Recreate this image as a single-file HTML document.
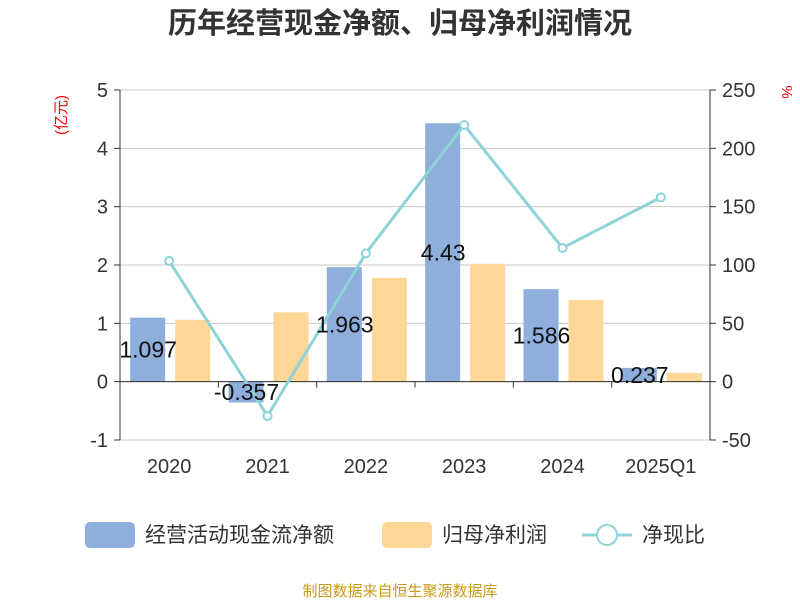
<!DOCTYPE html>
<html><head><meta charset="utf-8"><style>
body{margin:0;background:#fff;width:800px;height:600px;overflow:hidden;font-family:"Liberation Sans","Noto Sans CJK SC",sans-serif}
</style></head><body>
<svg id="c" width="800" height="600" xmlns="http://www.w3.org/2000/svg" font-family="Liberation Sans, Noto Sans CJK SC, sans-serif">
<text x="400" y="33" text-anchor="middle" font-size="29" font-weight="bold" fill="#333">历年经营现金净额、归母净利润情况</text>
<text transform="translate(66,115) rotate(-90)" text-anchor="middle" font-size="15" fill="#e00">(亿元)</text>
<text transform="translate(782,92) rotate(90)" text-anchor="middle" font-size="15" fill="#e00">%</text>
<g id="grid"></g><g id="bars"></g><g id="axes"></g><g id="line"></g><g id="labels"></g>
<g>
<rect x="85" y="522" width="50" height="26" rx="5" fill="#8eaedb"/>
<text x="145" y="542" font-size="21" fill="#333">经营活动现金流净额</text>
<rect x="382" y="522" width="50" height="26" rx="5" fill="#fed797"/>
<text x="442" y="542" font-size="21" fill="#333">归母净利润</text>
<line x1="582" y1="535" x2="632" y2="535" stroke="#8dd3d8" stroke-width="3"/>
<circle cx="607" cy="535" r="10" fill="#fff" stroke="#8dd3d8" stroke-width="2"/>
<text x="642" y="542" font-size="21" fill="#333">净现比</text>
</g>
<text x="400" y="596" text-anchor="middle" font-size="15" fill="#c99a1a">制图数据来自恒生聚源数据库</text>
</svg>
<script>
const categories=["2020","2021","2022","2023","2024","2025Q1"];
const cashFlow=[1.097,-0.357,1.963,4.43,1.586,0.237];
const netProfit=[1.06,1.19,1.78,2.02,1.40,0.15];
const ratio=[103.5,-29.4,110,220,114.6,158];
const leftTicks=[-1,0,1,2,3,4,5];
const rightTicks=[-50,0,50,100,150,200,250];
const NS="http://www.w3.org/2000/svg";
const X0=120,X1=710,YT=90,YB=440;
const yL=v=>YB-(v+1)/6*(YB-YT);
const yR=v=>YB-(v+50)/300*(YB-YT);
const bw=(X1-X0)/categories.length;
const xc=i=>X0+bw*(i+0.5);
function mk(p,t,a){const e=document.createElementNS(NS,t);for(const k in a)e.setAttribute(k,a[k]);document.getElementById(p).appendChild(e);return e;}
leftTicks.forEach((t,i)=>{
 let g=mk("grid","line",{x1:X0,x2:X1,y1:yL(t),y2:yL(t),stroke:"#c8c8c8","stroke-width":1});
 
 
 let tk=mk("axes","line",{x1:X0-6,x2:X0,y1:yL(t),y2:yL(t),stroke:"#333"});
 
 
 let tx=mk("axes","text",{x:X0-12,y:yL(t)+7,"text-anchor":"end","font-size":20,fill:"#333"});tx.textContent=t;
 
 
});
rightTicks.forEach(t=>{
 let tk=mk("axes","line",{x1:X1,x2:X1+6,y1:yR(t),y2:yR(t),stroke:"#333"});
 
 
 let tx=mk("axes","text",{x:X1+12,y:yR(t)+7,"font-size":20,fill:"#333"});tx.textContent=t;
 
 
});
let la=mk("axes","line",{x1:X0,x2:X0,y1:YT,y2:YB,stroke:"#333"});

let ra=mk("axes","line",{x1:X1,x2:X1,y1:YT,y2:YB,stroke:"#333"});

let xa=mk("axes","line",{x1:X0,x2:X1,y1:yL(0),y2:yL(0),stroke:"#333"});

for(let i=0;i<=categories.length;i++){
 let tk=mk("axes","line",{x1:X0+bw*i,x2:X0+bw*i,y1:yL(0),y2:yL(0)+6,stroke:"#333"});
 
}
categories.forEach((c,i)=>{
 let tx=mk("axes","text",{x:xc(i),y:473,"text-anchor":"middle","font-size":20,fill:"#333"});tx.textContent=c;
 
 const z=yL(0);
 let b=mk("bars","rect",{x:xc(i)-39,width:35,y:Math.min(yL(cashFlow[i]),z),height:Math.abs(yL(cashFlow[i])-z),fill:"#8eaedb"});
 
 let o=mk("bars","rect",{x:xc(i)+6,width:35,y:Math.min(yL(netProfit[i]),z),height:Math.abs(yL(netProfit[i])-z),fill:"#fed797"});
 
 let l=mk("labels","text",{x:xc(i)-21,y:(yL(cashFlow[i])+z)/2+8,"text-anchor":"middle","font-size":23,fill:"#111"});l.textContent=cashFlow[i];
 
});
let pl=mk("line","polyline",{points:ratio.map((v,i)=>xc(i)+","+yR(v)).join(" "),fill:"none",stroke:"#8dd3d8","stroke-width":3});

ratio.forEach((v,i)=>{
 let p=mk("line","circle",{cx:xc(i),cy:yR(v),r:4,fill:"#fff",stroke:"#8dd3d8","stroke-width":2});
 
});
</script>
</body></html>
